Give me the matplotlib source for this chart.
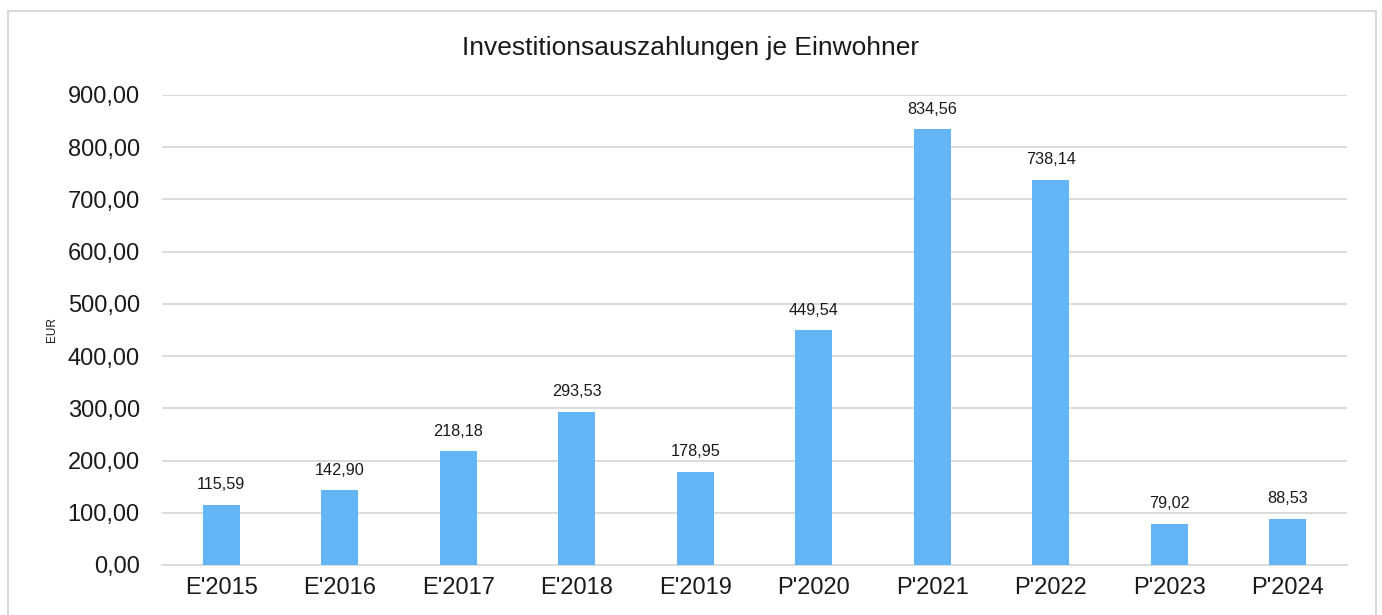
import matplotlib
matplotlib.use("Agg")
import matplotlib.pyplot as plt
from matplotlib.patches import Rectangle

categories = ["E'2015", "E'2016", "E'2017", "E'2018", "E'2019",
              "P'2020", "P'2021", "P'2022", "P'2023", "P'2024"]
values = [115.59, 142.90, 218.18, 293.53, 178.95,
          449.54, 834.56, 738.14, 79.02, 88.53]
yticks = [0, 100, 200, 300, 400, 500, 600, 700, 800, 900]

plt.rcParams['font.family'] = ['Liberation Sans', 'DejaVu Sans']

W, H = 1382, 615
fig = plt.figure(figsize=(W / 100, H / 100), dpi=100)
fig.patches.append(Rectangle((8 / W, -0.05), (1376 - 8) / W, 1.05 - 11 / H,
                             transform=fig.transFigure, fill=False,
                             edgecolor='#D9D9D9', linewidth=1.5))

ax = fig.add_axes([162 / W, 1 - 565 / H, (1347 - 162) / W, (565 - 95) / H])
x = range(len(categories))
bars = ax.bar(x, values, width=0.31, color='#64B5F6', zorder=3)
for xi, v in zip(x, values):
    ax.text(xi, v + 24, f"{v:.2f}".replace('.', ','), ha='center', va='bottom',
            fontsize=11.7, color='#1a1a1a')

ax.set_xlim(-0.5, len(categories) - 0.5)
ax.set_ylim(0, 900)
ax.set_yticks(yticks)
ax.set_yticklabels([f"{t:.2f}".replace('.', ',') for t in yticks], fontsize=17)
ax.set_xticks(list(x))
ax.set_xticklabels(categories, fontsize=17)
ax.tick_params(axis='both', length=0, colors='#1a1a1a')
ax.tick_params(axis='y', pad=16)
ax.tick_params(axis='x', pad=9)
ax.grid(axis='y', color='#D9D9D9', linewidth=1.3, zorder=0)
for s in ['top', 'right', 'left']:
    ax.spines[s].set_visible(False)
ax.spines['bottom'].set_color('#D9D9D9')
ax.spines['bottom'].set_linewidth(1.3)

fig.text(0.5, 1 - 48 / H, "Investitionsauszahlungen je Einwohner", ha='center',
         va='center', fontsize=19, color='#1a1a1a')
fig.text(52 / W, 1 - 330 / H, "EUR", rotation=90, ha='center', va='center',
         fontsize=8.5, color='#1a1a1a')

fig.savefig("out.png", dpi=100)
